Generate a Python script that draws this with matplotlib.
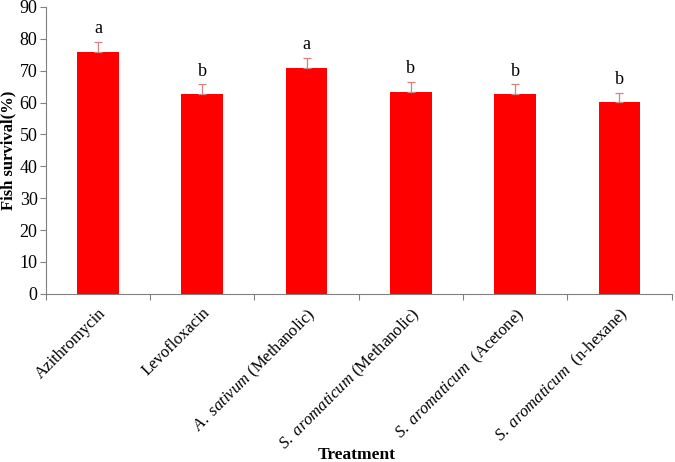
import matplotlib
matplotlib.use("Agg")
import matplotlib.pyplot as plt
import numpy as np

plt.rcParams['font.family'] = ['Liberation Serif', 'DejaVu Serif']
plt.rcParams['mathtext.fontset'] = 'custom'
plt.rcParams['mathtext.rm'] = 'Liberation Serif'
plt.rcParams['mathtext.it'] = 'Liberation Serif:italic'

categories = ["Azithromycin", "Levofloxacin",
              r"$\it{A.\ sativum}$ (Methanolic)",
              r"$\it{S.\ aromaticum}$ (Methanolic)",
              r"$\it{S.\ aromaticum}$  (Acetone)",
              r"$\it{S.\ aromaticum}$  (n-hexane)"]
values = [76.0, 62.7, 70.9, 63.4, 62.7, 60.1]
errors = [3.0, 3.0, 3.0, 3.0, 3.0, 3.0]
letters = ["a", "b", "a", "b", "b", "b"]
yticks = [0, 10, 20, 30, 40, 50, 60, 70, 80, 90]

fig = plt.figure(figsize=(6.75, 4.62), dpi=100)
ax = fig.add_axes([0.068, 0.364, 0.927, 0.621])

x = np.arange(len(categories))
ax.bar(x, values, width=0.4, color='#ff0000', zorder=2)
ax.errorbar(x, values, yerr=[np.zeros(len(values)), errors], fmt='none',
            ecolor='#d98080', elinewidth=0.9, capsize=3, capthick=0.9, zorder=3)
for xi, v, e, l in zip(x, values, errors, letters):
    ax.text(xi, v + e + 1.5, l, ha='center', va='bottom', fontsize=13)

ax.set_xlim(-0.5, len(categories) - 0.5)
ax.set_ylim(0, 90)
ax.set_yticks(yticks)
ax.tick_params(axis='y', labelsize=13, direction='out', length=4, color='#808080', width=0.8, pad=2)
ax.set_xticks(x)
ax.set_xticklabels(categories, rotation=45, ha='right', rotation_mode='anchor', fontsize=12)
ax.tick_params(axis='x', which='major', length=0, pad=8)
ax.set_xticks(np.arange(-0.5, len(categories)), minor=True)
ax.tick_params(axis='x', which='minor', length=4, color='#808080', width=0.8, direction='out')

for s in ['top', 'right']:
    ax.spines[s].set_visible(False)
for s in ['left', 'bottom']:
    ax.spines[s].set_color('#808080')
    ax.spines[s].set_linewidth(0.8)

fig.text(8 / 675, 1 - 150 / 462, "Fish survival(%)", rotation=90, ha='center', va='center',
         fontsize=12, fontweight='bold')
fig.text(357 / 675, 1 - 455 / 462, "Treatment", ha='center', va='center', fontsize=12.5, fontweight='bold')

fig.savefig("out.png", dpi=100)
